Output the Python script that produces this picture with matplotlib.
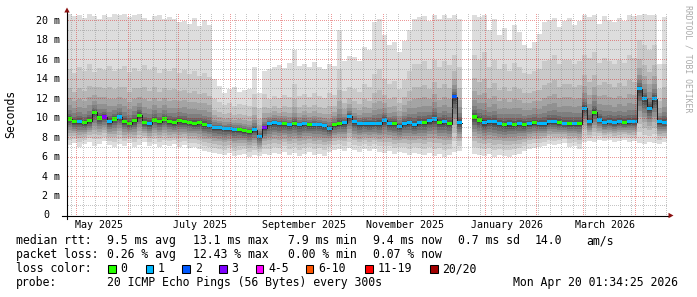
import numpy as np
import matplotlib
matplotlib.use("Agg")
import matplotlib.pyplot as plt
import matplotlib.dates as mdates
from matplotlib.lines import Line2D
from matplotlib.patches import Polygon, Rectangle
from datetime import datetime, timedelta

nan = np.nan

# ---------------- data ----------------
start_time = datetime(2025, 4, 25, 1, 34, 25)
end_time = datetime(2026, 4, 20, 1, 34, 25)
bin_days = 3

median_ms = [
    9.9, 9.6, 9.6, 9.5, 9.7, 10.6, 10.0, 10.1, 9.6, 9.9,
    10.1, 9.6, 9.4, 9.7, 10.3, 9.5, 9.4, 9.8, 9.6, 9.9,
    9.6, 9.5, 9.7, 9.6, 9.5, 9.4, 9.5, 9.3, 9.2, 9.0,
    9.0, 8.9, 8.9, 8.8, 8.8, 8.7, 8.6, 8.8, 8.1, 9.0,
    9.4, 9.5, 9.4, 9.4, 9.3, 9.4, 9.3, 9.4, 9.3, 9.3,
    9.3, 9.2, 8.9, 9.3, 9.4, 9.5, 10.2, 9.6, 9.4, 9.4,
    9.4, 9.4, 9.4, 9.8, 9.4, 9.4, 9.1, 9.4, 9.5, 9.3,
    9.5, 9.5, 9.7, 9.9, 9.5, 9.6, 9.4, 12.2, 9.5, nan,
    nan, 10.1, 9.8, 9.5, 9.6, 9.6, 9.4, 9.3, 9.4, 9.3,
    9.4, 9.3, 9.4, 9.5, 9.4, 9.4, 9.6, 9.6, 9.5, 9.4,
    9.4, 9.4, 9.4, 11.0, 9.6, 10.6, 9.8, 9.5, 9.6, 9.5,
    9.6, 9.5, 9.6, 9.6, 13.0, 12.0, 11.0, 12.0, 9.6, 9.5,
]

loss_class = [
    0, 0, 1, 0, 0, 0, 0, 3, 1, 0,
    1, 0, 0, 0, 0, 0, 1, 0, 0, 0,
    0, 0, 0, 0, 0, 0, 0, 0, 1, 1,
    1, 1, 1, 1, 0, 0, 0, 1, 1, 3,
    1, 1, 1, 0, 1, 0, 1, 1, 0, 1,
    1, 1, 1, 0, 0, 1, 1, 1, 1, 1,
    1, 1, 1, 1, 1, 0, 1, 1, 1, 1,
    1, 0, 1, 1, 0, 1, 0, 2, 1, 0,
    0, 0, 0, 1, 1, 1, 1, 0, 1, 0,
    1, 0, 1, 0, 1, 1, 1, 1, 0, 1,
    0, 1, 0, 1, 1, 0, 1, 1, 1, 1,
    1, 0, 1, 1, 1, 1, 1, 1, 1, 1,
]

max_ms = [
    20.8, 20.5, 20.6, 20.3, 20.8, 20.5, 20.2, 20.6, 20.4, 20.7,
    20.6, 20.8, 20.4, 20.6, 20.7, 20.3, 20.1, 20.5, 20.6, 20.2,
    20.4, 20.2, 19.8, 20.0, 19.6, 20.3, 19.4, 20.1, 19.5, 14.0,
    13.3, 12.6, 13.0, 13.2, 12.7, 12.9, 13.0, 15.2, 12.6, 14.8,
    15.0, 15.2, 15.4, 15.1, 15.6, 17.0, 15.3, 15.5, 15.2, 15.7,
    15.2, 15.0, 15.5, 15.3, 19.0, 15.8, 16.4, 16.3, 15.8, 17.3,
    17.0, 19.8, 20.2, 18.5, 17.5, 17.8, 16.8, 17.9, 19.0, 20.2,
    20.4, 20.5, 20.0, 20.6, 20.2, 20.6, 20.3, 20.6, 20.2, nan,
    nan, 20.6, 20.4, 20.6, 19.0, 20.2, 18.5, 19.2, 18.0, 19.5,
    18.8, 17.5, 17.2, 17.8, 18.6, 19.8, 20.1, 20.3, 19.3, 20.0,
    20.3, 19.5, 19.9, 20.6, 20.4, 20.6, 19.6, 20.5, 20.1, 19.8,
    20.3, 20.0, 20.6, 20.5, 20.6, 20.8, 20.6, 20.6, 15.5, 20.4,
]

second_max_ms = [
    15.0, 14.6, 15.2, 14.8, 15.5, 14.7, 15.1, 14.9, 15.3, 14.8,
    15.0, 15.3, 14.7, 15.1, 14.8, 15.4, 14.9, 15.2, 14.6, 15.0,
    14.8, 15.1, 14.6, 14.9, 14.5, 14.8, 14.3, 14.6, 14.2, 12.0,
    11.6, 11.3, 11.5, 11.2, 11.4, 11.3, 11.2, 12.5, 11.0, 12.5,
    12.0, 12.3, 12.1, 12.4, 12.2, 13.5, 12.3, 12.5, 12.2, 12.6,
    12.3, 12.1, 12.6, 12.4, 15.0, 12.8, 13.2, 13.0, 12.7, 13.5,
    13.2, 14.5, 15.0, 14.0, 13.5, 13.8, 13.0, 13.9, 14.8, 15.5,
    15.5, 15.8, 15.0, 16.0, 15.2, 15.8, 15.4, 16.5, 15.2, nan,
    nan, 16.5, 16.0, 16.8, 15.2, 16.0, 15.0, 15.5, 14.8, 15.6,
    15.2, 14.6, 14.5, 14.8, 15.0, 15.8, 16.0, 16.5, 15.5, 16.0,
    16.0, 15.5, 15.8, 16.5, 16.2, 16.8, 15.6, 16.2, 15.8, 15.5,
    16.0, 15.6, 16.5, 16.2, 18.0, 17.5, 17.0, 17.5, 13.0, 15.5,
]

min_ms = [
    7.2, 7.4, 7.0, 7.3, 7.5, 7.1, 7.3, 7.6, 7.2, 7.0,
    7.3, 7.1, 7.4, 7.0, 7.2, 7.5, 7.1, 7.3, 7.0, 7.2,
    7.1, 7.3, 7.0, 7.2, 6.9, 7.0, 6.8, 6.6, 6.5, 6.4,
    6.3, 6.2, 6.4, 6.1, 6.2, 6.3, 6.0, 6.2, 6.1, 6.3,
    6.2, 6.4, 6.3, 6.5, 6.2, 6.4, 6.1, 6.3, 6.5, 6.2,
    6.3, 6.1, 6.5, 6.7, 6.8, 6.6, 6.9, 6.7, 6.5, 6.8,
    6.6, 6.8, 6.5, 6.4, 6.6, 6.3, 6.5, 6.4, 6.2, 6.4,
    6.3, 6.2, 6.4, 6.1, 6.3, 6.0, 6.2, 6.5, 6.6, nan,
    nan, 6.3, 6.2, 6.1, 6.3, 6.0, 6.2, 6.1, 6.0, 6.2,
    6.3, 6.6, 6.8, 6.9, 7.0, 7.1, 7.3, 7.2, 7.3, 7.4,
    7.0, 7.1, 6.8, 7.5, 7.6, 7.5, 7.7, 7.6, 7.7, 7.5,
    7.6, 7.7, 7.5, 7.6, 7.4, 7.3, 7.5, 7.4, 7.3, 7.5,
]

month_labels = ["May 2025", "July 2025", "September 2025",
                "November 2025", "January 2026", "March 2026"]
month_label_dates = [datetime(2025, 5, 1), datetime(2025, 7, 1), datetime(2025, 9, 1),
                     datetime(2025, 11, 1), datetime(2026, 1, 1), datetime(2026, 3, 1)]
y_tick_values = [0, 2, 4, 6, 8, 10, 12, 14, 16, 18, 20]

loss_legend = ["0", "1", "2", "3", "4-5", "6-10", "11-19", "20/20"]
loss_colors = ["#26ff00", "#00b8ff", "#0059ff", "#7e00ff",
               "#ff00ff", "#ff5500", "#ff0000", "#a10000"]

median_line = ["median rtt:", "9.5 ms avg", "13.1 ms max", "7.9 ms min",
               "9.4 ms now", "0.7 ms sd", "14.0", "am/s"]
loss_line = ["packet loss:", "0.26 % avg", "12.43 % max", "0.00 % min", "0.07 % now"]
probe_text = "20 ICMP Echo Pings (56 Bytes) every 300s"
date_text = "Mon Apr 20 01:34:25 2026"

# ---------------- figure ----------------
W, H = 697, 297
fig = plt.figure(figsize=(W / 100, H / 100), dpi=100)
fig.patch.set_facecolor("white")
FONT = "DejaVu Sans Mono"

PL, PR, PB, PT = 67, 667, 215.5, 13.7
YMAX = 20.7
ax = fig.add_axes([PL / W, 1 - PB / H, (PR - PL) / W, (PB - PT) / H])
t0 = mdates.date2num(start_time)
t1 = mdates.date2num(end_time)
ax.set_xlim(t0, t1)
ax.set_ylim(0, YMAX)
ax.axis("off")

def fx(x):
    return x / W

def fy(y):
    return 1 - y / H

med = np.array(median_ms, float)
hi = np.array(max_ms, float)
hi2 = np.array(second_max_ms, float)
lo = np.array(min_ms, float)
n = len(med)
xs = t0 + bin_days * np.arange(n)

# smoke: 20 sorted pings -> 10 nested bands
up_frac = [0.62, 0.42, 0.28, 0.18, 0.11, 0.065, 0.035, 0.012]
lo_frac = [0.80, 0.65, 0.52, 0.41, 0.31, 0.22, 0.14, 0.08, 0.025]
uppers = [hi, hi2] + [med + (hi2 - med) * f for f in up_frac]
lowers = [lo] + [med - (med - lo) * f for f in lo_frac]
half = 10
for k in range(1, half + 1):
    g = int(190 / half * (half - k)) + 50
    col = "#%02x%02x%02x" % (g, g, g)
    U = uppers[k - 1]
    L = lowers[k - 1]
    ax.bar(xs, U - L, bottom=L, width=bin_days, align="edge", color=col,
           linewidth=0, antialiased=False, zorder=1)

# median: thin dark line + loss coloured band
xe = np.append(xs, xs[-1] + bin_days)
me = np.append(med, med[-1])
ax.step(xe, me, where="post", color="#202020", lw=0.72, zorder=3)
hw = 0.16
for i in range(n):
    if np.isnan(med[i]):
        continue
    ax.bar(xs[i], 2 * hw, bottom=med[i] - hw, width=bin_days, align="edge",
           color=loss_colors[loss_class[i]], linewidth=0, antialiased=False, zorder=4)

# ---------------- dotted grid as pixel overlay ----------------
overlay = np.zeros((H, W, 4), float)
minor_rgba = (0.55, 0.55, 0.55, 0.5)
major_rgba = (0.85, 0.10, 0.10, 0.45)

def to_px(xd, yd):
    X, Y = ax.transData.transform((xd, yd))
    return int(np.floor(X)), int(np.floor(H - Y))

c_left, r_bot = to_px(t0, 0)
c_right, r_top = to_px(t1, YMAX)

def hdots(v, rgba):
    _, r = to_px(t0, v)
    for c in range(c_left + 1, c_right + 1):
        if c % 2 == 0:
            overlay[r, c] = rgba

def vdots(t, rgba):
    c, _ = to_px(t, 0)
    for r in range(r_top + 1, r_bot):
        if r % 2 == 0:
            overlay[r, c] = rgba

for v in range(1, 21, 2):
    hdots(v, minor_rgba)
d = datetime(2025, 4, 28)
while d < end_time:
    vdots(mdates.date2num(d), minor_rgba)
    d += timedelta(days=7)
for v in range(2, 21, 2):
    hdots(v, major_rgba)
yy, mm = 2025, 5
while True:
    dd = datetime(yy, mm, 1)
    if dd >= end_time:
        break
    vdots(mdates.date2num(dd), major_rgba)
    mm += 1
    if mm > 12:
        mm, yy = 1, yy + 1
fig.figimage(overlay, xo=0, yo=0, origin="upper", zorder=5)

# axes lines and arrows
arrow_col = "#8b1010"
fig.add_artist(Line2D([fx(62), fx(670)], [fy(PB), fy(PB)], color="black", lw=0.8, zorder=6))
fig.add_artist(Line2D([fx(PL), fx(PL)], [fy(219), fy(11)], color="black", lw=0.8, zorder=6))
fig.add_artist(Polygon([[fx(673.5), fy(PB)], [fx(668.5), fy(PB - 2.7)], [fx(668.5), fy(PB + 2.7)]],
                       closed=True, color=arrow_col, lw=0, zorder=6))
fig.add_artist(Polygon([[fx(PL), fy(7.5)], [fx(PL - 2.7), fy(12.5)], [fx(PL + 2.7), fy(12.5)]],
                       closed=True, color=arrow_col, lw=0, zorder=6))

# y tick labels
for v in y_tick_values:
    yp = PB - v * (PB - PT) / YMAX
    if v == 0:
        fig.text(fx(43), fy(yp), "0", ha="left", va="center", family=FONT, fontsize=7.2)
    else:
        fig.text(fx(60), fy(yp), "%d m" % v, ha="right", va="center", family=FONT, fontsize=7.2)

# x labels (centred mid-month, rrdtool style)
for lab, dd in zip(month_labels, month_label_dates):
    xc = mdates.date2num(dd + timedelta(days=13))
    ax.text(xc, -(224.5 - PB) / (PB - PT) * YMAX, lab, ha="center", va="center",
            family=FONT, fontsize=7.2, clip_on=False)

fig.text(fx(11), fy(114), "Seconds", rotation=90, ha="center", va="center",
         family=FONT, fontsize=8.3)
fig.text(fx(688), fy(59), "RRDTOOL / TOBI OETIKER", rotation=270, ha="center", va="center",
         family=FONT, fontsize=5.9, color="#aaaaaa")

# legend
FS = 8.3
base = [244.0, 258.0, 272.0, 286.0]
cols1 = [16, 107.3, 193.3, 288.3, 372.7, 458.3, 535, 586.7]
for s, xx in zip(median_line, cols1):
    fig.text(fx(xx), fy(base[0]), s, ha="left", va="baseline", family=FONT, fontsize=FS)
for s, xx in zip(loss_line, cols1):
    fig.text(fx(xx), fy(base[1]), s, ha="left", va="baseline", family=FONT, fontsize=FS)
fig.text(fx(16), fy(base[2]), "loss color:", ha="left", va="baseline", family=FONT, fontsize=FS)
box_x = [108.3, 145.7, 182.3, 219.0, 255.7, 305.7, 365.0, 430.0]
for lab, c, bx in zip(loss_legend, loss_colors, box_x):
    fig.add_artist(Rectangle((fx(bx), fy(272.7)), 7.5 / W, 7.5 / H, facecolor=c,
                             edgecolor="black", lw=0.75))
    fig.text(fx(bx + 12.4), fy(base[2]), lab, ha="left", va="baseline", family=FONT, fontsize=FS)
fig.text(fx(16), fy(base[3]), "probe:", ha="left", va="baseline", family=FONT, fontsize=FS)
fig.text(fx(107.3), fy(base[3]), probe_text, ha="left", va="baseline", family=FONT, fontsize=FS)
fig.text(fx(513.3), fy(base[3]), date_text, ha="left", va="baseline", family=FONT, fontsize=FS)

fig.savefig("out.png", dpi=100, facecolor="white")
